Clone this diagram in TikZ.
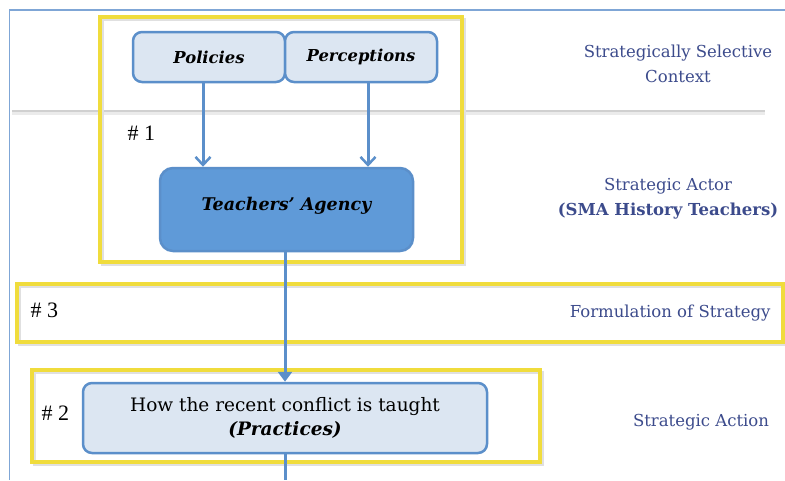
\documentclass[tikz,border=0pt]{standalone}
\usepackage{fontspec}
\setmainfont{DejaVu Serif}
\newfontfamily\numfont{Liberation Serif}
\usetikzlibrary{arrows.meta,calc}
\definecolor{frameblue}{HTML}{7FA6D6}
\definecolor{boxedge}{HTML}{5B8FCA}
\definecolor{lightfill}{HTML}{DCE6F2}
\definecolor{darkfill}{HTML}{5F9AD8}
\definecolor{hlyellow}{HTML}{F0DC3C}
\definecolor{labelblue}{HTML}{3C4B8C}
\definecolor{sepgray}{HTML}{D0D0D0}
\tikzset{
  yellowbox/.style={draw=hlyellow, line width=3.5pt},
  yshadow/.style={draw=black!12, line width=3pt},
  inbox/.style={draw=boxedge, line width=2.5pt, fill=lightfill, rounded corners=9pt,
    inner sep=0pt, align=center},
  actorbox/.style={draw=boxedge, line width=2.5pt, fill=darkfill, rounded corners=13pt,
    inner sep=0pt, align=center},
  flow/.style={draw=boxedge, line width=3pt},
  barb/.style={flow, -{Straight Barb[length=8pt,width=15pt,line width=2.5pt]}},
  tip/.style={flow, -{Triangle[length=10pt,width=14pt]}},
  sidelabel/.style={text=labelblue, align=center, font=\fontsize{16.5}{25}\selectfont},
  casenum/.style={font=\numfont\fontsize{22}{24}\selectfont, anchor=west},
}
\begin{document}
\begin{tikzpicture}[x=1pt,y=-1pt]
\useasboundingbox (0,0) rectangle (785,480);
\fill[white] (0,0) rectangle (785,480);

% page frame and separator rule
\draw[frameblue, line width=1.2pt] (9.5,480) -- (9.5,10) -- (785,10);
\draw[black!8, line width=4pt] (12,112.5) -- (765,112.5);
\draw[sepgray, line width=2pt] (12,111) -- (765,111);

% highlighted regions
\draw[yshadow] (102,19) rectangle (464,264);
\draw[yellowbox] (100,17) rectangle (462,262);
\draw[yshadow] (19,286) rectangle (785,344);
\draw[yellowbox] (17,284) rectangle (783,342);
\draw[yshadow] (34,372) rectangle (542,464);
\draw[yellowbox] (32,370) rectangle (540,462);

% boxes
\node[inbox, minimum width=152pt, minimum height=50pt] (pol) at (209,57)
  {\fontsize{16.4}{19}\selectfont\bfseries\itshape Policies};
\node[inbox, minimum width=152pt, minimum height=50pt] (per) at (361,57)
  {\fontsize{16.4}{19}\selectfont\bfseries\itshape Perceptions};
\node[actorbox, minimum width=253pt, minimum height=83pt] (ta) at (286.5,209.5)
  {\raisebox{11pt}{\fontsize{17.5}{20}\selectfont\bfseries\itshape Teachers' Agency}};
\node[inbox, minimum width=404pt, minimum height=70pt] (pr) at (285,418)
  {\fontsize{18.5}{22}\selectfont How the recent conflict is taught\\[5pt]
   \fontsize{18.5}{22}\selectfont\bfseries\itshape (Practices)};
\coordinate (bottom) at (285,480);

% connectors
\draw[barb] ([xshift=-6pt]pol.south) -- ([xshift=-6pt]pol.south |- ta.north);
\draw[barb] ([xshift=7pt]per.south) -- ([xshift=7pt]per.south |- ta.north);
\draw[tip] (ta.south -| pr.north) -- (pr.north);
\draw[flow] (pr.south) -- (bottom);

% case numbers
\node[casenum] (n1) at (124,133) {\# 1};
\node[casenum] (n3) at (27,310) {\# 3};
\node[casenum] (n2) at (38,413) {\# 2};

% level labels
\node[sidelabel] (l1) at (678,64) {Strategically Selective\\Context};
\node[sidelabel] (l2) at (668,199) {Strategic Actor\\\bfseries (SMA History Teachers)};
\node[sidelabel, anchor=east] (l3) at (774,313) {Formulation of Strategy};
\node[sidelabel] (l4) at (701,422) {Strategic Action};
\end{tikzpicture}
\end{document}
